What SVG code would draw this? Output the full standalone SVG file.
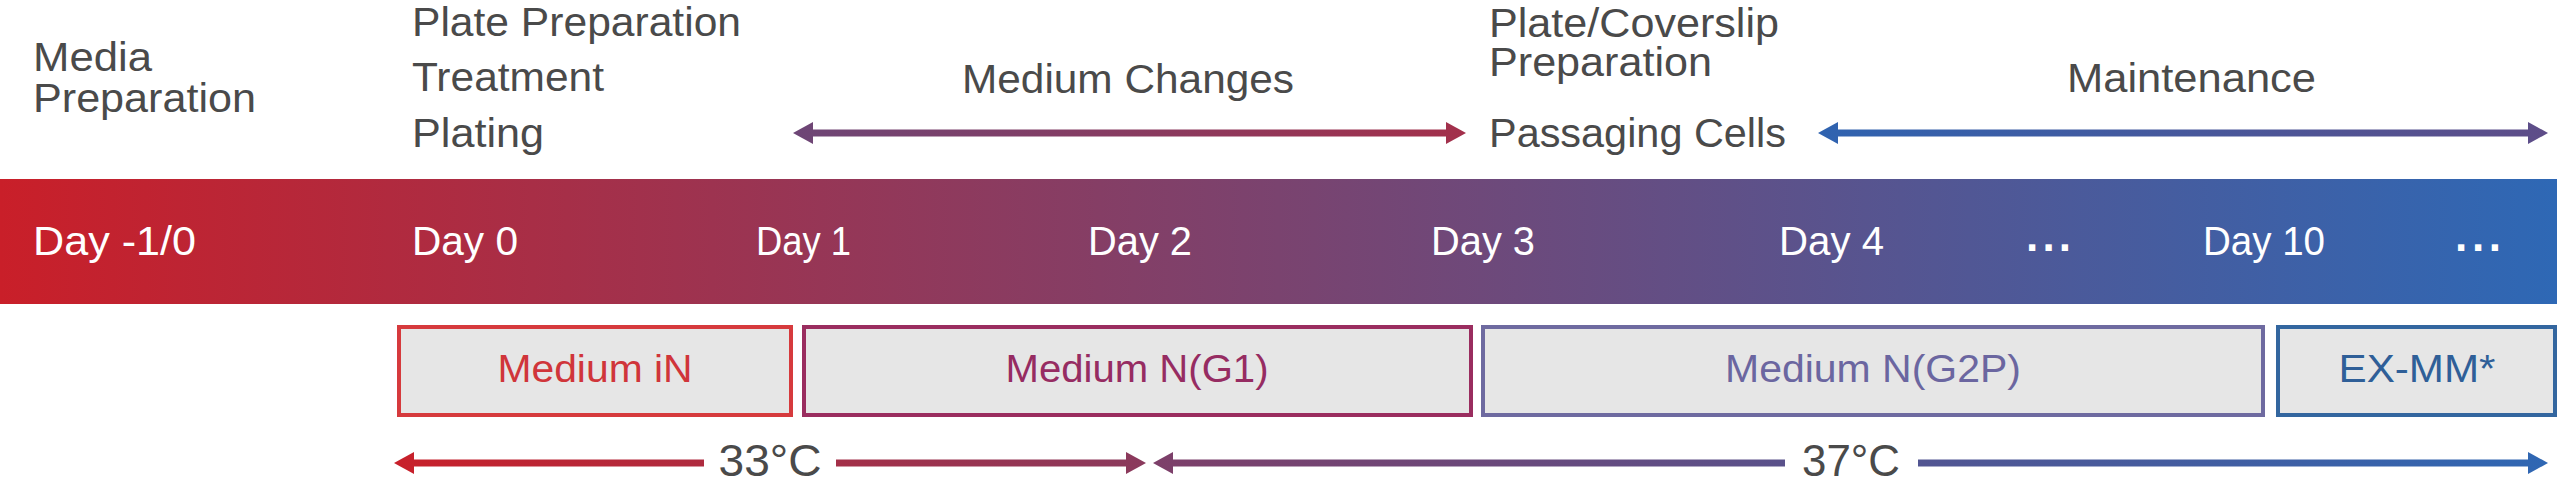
<svg xmlns="http://www.w3.org/2000/svg" width="2560" height="498" viewBox="0 0 2560 498">
<defs>
<style>
text{font-family:"Liberation Sans",Arial,sans-serif;}
.top{font-size:40px;fill:#4a4a4a;}
.day{font-size:40px;fill:#ffffff;}
.dots{font-size:44px;fill:#ffffff;font-weight:bold;}
.box{fill:#e6e6e6;stroke-width:4;}
.lbl{font-size:38px;text-anchor:middle;}
.temp{font-size:44px;fill:#4a4a4a;text-anchor:middle;}
</style>
<linearGradient id="gBar" gradientUnits="userSpaceOnUse" x1="0" y1="0" x2="2557" y2="0">
<stop offset="0" stop-color="#c91f29"/>
<stop offset="0.5" stop-color="#7a436f"/>
<stop offset="1" stop-color="#2e68b5"/>
</linearGradient>
<linearGradient id="gChg" gradientUnits="userSpaceOnUse" x1="793" y1="0" x2="1466" y2="0">
<stop offset="0" stop-color="#6d4676"/>
<stop offset="1" stop-color="#a3304b"/>
</linearGradient>
<linearGradient id="gMnt" gradientUnits="userSpaceOnUse" x1="1818" y1="0" x2="2548" y2="0">
<stop offset="0" stop-color="#2f63b0"/>
<stop offset="1" stop-color="#5e4d88"/>
</linearGradient>
<linearGradient id="g33" gradientUnits="userSpaceOnUse" x1="394" y1="0" x2="1146" y2="0">
<stop offset="0" stop-color="#c8202a"/>
<stop offset="1" stop-color="#8a3a5d"/>
</linearGradient>
<linearGradient id="g37" gradientUnits="userSpaceOnUse" x1="1153" y1="0" x2="2548" y2="0">
<stop offset="0" stop-color="#7d3f69"/>
<stop offset="1" stop-color="#2f67b3"/>
</linearGradient>
</defs>
<rect width="2560" height="498" fill="#ffffff"/>

<g id="stage-labels">
<text class="top" x="33" y="71" textLength="119" lengthAdjust="spacingAndGlyphs">Media</text>
<text class="top" x="33" y="112" textLength="223" lengthAdjust="spacingAndGlyphs">Preparation</text>
<text class="top" x="412" y="36" textLength="329" lengthAdjust="spacingAndGlyphs">Plate Preparation</text>
<text class="top" x="412" y="91" textLength="192" lengthAdjust="spacingAndGlyphs">Treatment</text>
<text class="top" x="412" y="147" textLength="132" lengthAdjust="spacingAndGlyphs">Plating</text>
<text class="top" x="962" y="93" textLength="332" lengthAdjust="spacingAndGlyphs">Medium Changes</text>
<text class="top" x="1489" y="37" textLength="290" lengthAdjust="spacingAndGlyphs">Plate/Coverslip</text>
<text class="top" x="1489" y="76" textLength="223" lengthAdjust="spacingAndGlyphs">Preparation</text>
<text class="top" x="1489" y="147" textLength="297" lengthAdjust="spacingAndGlyphs">Passaging Cells</text>
<text class="top" x="2067" y="92" textLength="249" lengthAdjust="spacingAndGlyphs">Maintenance</text>
</g>

<g id="timeline">
<rect x="0" y="179" width="2557" height="125" fill="url(#gBar)"/>
<text class="day" x="33" y="255" textLength="163" lengthAdjust="spacingAndGlyphs">Day -1/0</text>
<text class="day" x="412" y="255" textLength="106" lengthAdjust="spacingAndGlyphs">Day 0</text>
<text class="day" x="756" y="255" textLength="95" lengthAdjust="spacingAndGlyphs">Day 1</text>
<text class="day" x="1088" y="255" textLength="104" lengthAdjust="spacingAndGlyphs">Day 2</text>
<text class="day" x="1431" y="255" textLength="104" lengthAdjust="spacingAndGlyphs">Day 3</text>
<text class="day" x="1779" y="255" textLength="105" lengthAdjust="spacingAndGlyphs">Day 4</text>
<text class="dots" x="2026" y="251" textLength="45" lengthAdjust="spacing">...</text>
<text class="day" x="2203" y="255" textLength="122" lengthAdjust="spacingAndGlyphs">Day 10</text>
<text class="dots" x="2455" y="251" textLength="46" lengthAdjust="spacing">...</text>
</g>

<g id="medium-iN">
<rect class="box" x="399" y="327" width="392" height="88" stroke="#d63a3d"/>
<text class="lbl" x="595" y="382" fill="#d0353a" textLength="195" lengthAdjust="spacingAndGlyphs">Medium iN</text>
</g>
<g id="medium-NG1">
<rect class="box" x="804" y="327" width="667" height="88" stroke="#9a2d5f"/>
<text class="lbl" x="1137" y="382" fill="#962c62" textLength="263" lengthAdjust="spacingAndGlyphs">Medium N(G1)</text>
</g>
<g id="medium-NG2P">
<rect class="box" x="1483" y="327" width="780" height="88" stroke="#6e6aa0"/>
<text class="lbl" x="1873" y="382" fill="#6b66a0" textLength="296" lengthAdjust="spacingAndGlyphs">Medium N(G2P)</text>
</g>
<g id="ex-mm">
<rect class="box" x="2278" y="327" width="277" height="88" stroke="#33669f"/>
<text class="lbl" x="2417" y="382" fill="#2f5f98" textLength="157" lengthAdjust="spacingAndGlyphs">EX-MM*</text>
</g>

<g id="connectors">
<!-- Medium Changes -->
<rect x="811" y="129.5" width="637" height="7" fill="url(#gChg)"/>
<polygon points="793,133 813,122 813,144" fill="url(#gChg)"/>
<polygon points="1466,133 1446,122 1446,144" fill="url(#gChg)"/>
<!-- Maintenance -->
<rect x="1836" y="129.5" width="694" height="7" fill="url(#gMnt)"/>
<polygon points="1818,133 1838,122 1838,144" fill="url(#gMnt)"/>
<polygon points="2548,133 2528,122 2528,144" fill="url(#gMnt)"/>
<!-- 33 C -->
<rect x="412" y="459.5" width="292" height="7" fill="url(#g33)"/>
<rect x="836" y="459.5" width="292" height="7" fill="url(#g33)"/>
<polygon points="394,463 414,452 414,474" fill="url(#g33)"/>
<polygon points="1146,463 1126,452 1126,474" fill="url(#g33)"/>
<!-- 37 C -->
<rect x="1171" y="459.5" width="614" height="7" fill="url(#g37)"/>
<rect x="1918" y="459.5" width="612" height="7" fill="url(#g37)"/>
<polygon points="1153,463 1173,452 1173,474" fill="url(#g37)"/>
<polygon points="2548,463 2528,452 2528,474" fill="url(#g37)"/>
</g>

<g id="temperatures">
<text class="temp" x="770" y="476" textLength="103" lengthAdjust="spacingAndGlyphs">33°C</text>
<text class="temp" x="1851" y="476" textLength="98" lengthAdjust="spacingAndGlyphs">37°C</text>
</g>
</svg>
